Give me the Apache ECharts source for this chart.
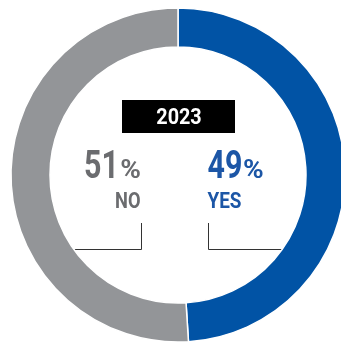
<!DOCTYPE html>
<html>
<head>
<meta charset="utf-8">
<script src="https://cdn.jsdelivr.net/npm/echarts@6/dist/echarts.min.js"></script>
<style>
  html, body { margin: 0; padding: 0; background: #ffffff; }
  #chart { width: 341px; height: 346px; }
</style>
</head>
<body>
<div id="chart"></div>
<script>
// Survey answers for 2023
const year = '2023';
const categories = ['YES', 'NO'];
const values = [49, 51];
const sliceColors = ['#0153a5', '#939598'];
const textColors = ['#1c56a6', '#6b6c6f'];

const chart = echarts.init(document.getElementById('chart'), null, { renderer: 'canvas' });

const cx = 178, cy = 175, rIn = 128, rOut = 167;
const FONT = 'Roboto';

// leader line end points on the inner edge of the ring
const lineY = 249.5;
const dx = Math.sqrt(rIn * rIn - (lineY - cy) * (lineY - cy));

function label(text, x, y, size, color, align, sx) {
  return {
    type: 'text', x: x, y: y, scaleX: sx, z: 10,
    style: {
      text: text, x: 0, y: 0,
      fontSize: size, fontWeight: 'bold', fontFamily: FONT,
      fill: color, textAlign: align, textVerticalAlign: 'bottom'
    }
  };
}

const option = {
  animation: false,
  series: [{
    type: 'pie',
    center: [cx, cy],
    radius: [rIn, rOut],
    startAngle: 90,
    clockwise: true,
    silent: true,
    label: { show: false },
    labelLine: { show: false },
    itemStyle: { borderColor: '#ffffff', borderWidth: 1.5 },
    emphasis: { disabled: true },
    data: categories.map((c, i) => ({
      name: c, value: values[i], itemStyle: { color: sliceColors[i] }
    }))
  }],
  graphic: [
    // year badge
    { type: 'rect', shape: { x: 122, y: 100, width: 113, height: 33 }, style: { fill: '#000000' }, z: 5 },
    label(year, cx + 1, 129, 22, '#ffffff', 'center', 0.9),

    // NO side (text sits on a shared baseline)
    label('%', 141, 184, 25, textColors[1], 'right', 1.12),
    label(String(values[1]), 119, 187.5, 38, textColors[1], 'right', 0.8),
    label(categories[1], 140.5, 213, 22, textColors[1], 'right', 0.83),

    // YES side
    label(String(values[0]), 207.5, 187.5, 38, textColors[0], 'left', 0.8),
    label('%', 243, 184, 25, textColors[0], 'left', 1.12),
    label(categories[0], 207.5, 213, 22, textColors[0], 'left', 0.86),

    // leader lines
    { type: 'polyline', z: 1, shape: { points: [[cx - dx, lineY], [141.5, lineY], [141.5, 223]] },
      style: { stroke: '#333333', lineWidth: 1, fill: null } },
    { type: 'polyline', z: 1, shape: { points: [[cx + dx, lineY], [208.5, lineY], [208.5, 223]] },
      style: { stroke: '#333333', lineWidth: 1, fill: null } }
  ]
};

chart.setOption(option);
</script>
</body>
</html>
